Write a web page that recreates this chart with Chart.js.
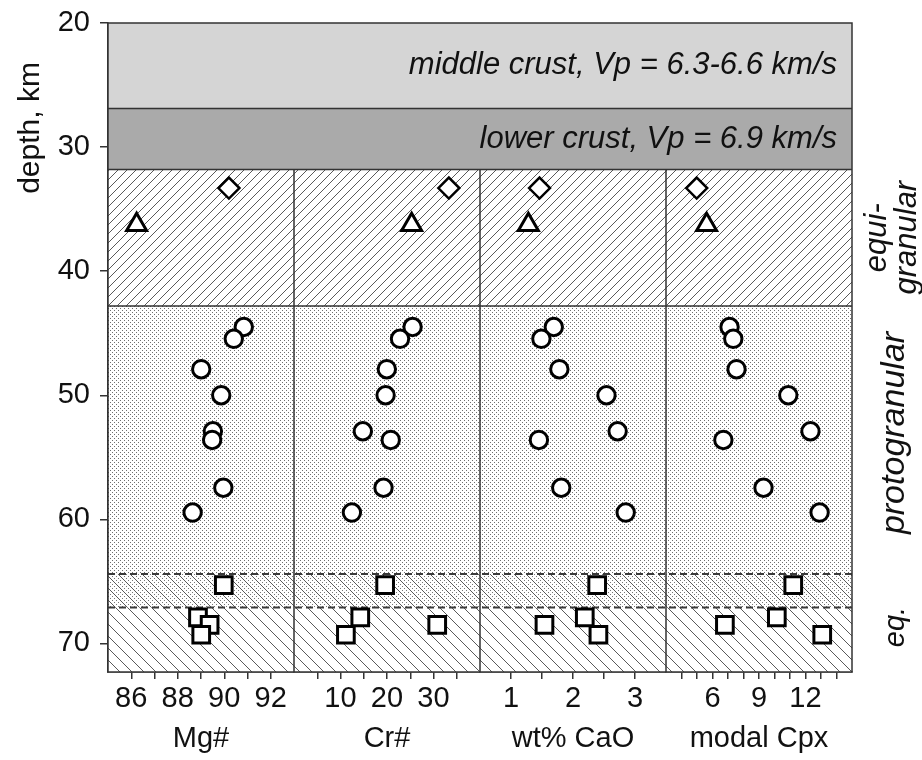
<!DOCTYPE html>
<html><head><meta charset="utf-8">
<script src="https://cdn.jsdelivr.net/npm/chart.js@4.4.0/dist/chart.umd.min.js"></script>
<style>html,body{margin:0;padding:0;background:#fff}#wrap{width:922px;height:760px;position:relative}</style>
</head><body><div id="wrap"><canvas id="c"></canvas></div>
<script>
// ---- data ----
const panelNames = ['Mg#', 'Cr#', 'wt% CaO', 'modal Cpx'];
const panelMin = [85, 0, 0.5, 3];
const panelMax = [93, 40, 3.5, 15];
const panelTicks = [[86,87,88,89,90,91,92],[5,10,15,20,25,30,35],[1,1.5,2,2.5,3],[4,5,6,7,8,9,10,11,12,13,14]];
const panelTickLabels = [[86,88,90,92],[10,20,30],[1,2,3],[6,9,12]];

const depthMin = 20, depthMax = 72.3;
const depthTicks = [20,30,40,50,60,70];

const diamondDepth = 33.3;
const triangleDepth = 36.25;
const circleDepths = [44.5, 45.45, 47.9, 50.0, 52.9, 53.6, 57.45, 59.45];
const squareDepths = [65.3, 67.9, 68.5, 69.3];

const diamondVals  = [90.2, 33.3, 1.46, 4.98];
const triangleVals = [86.23, 25.3, 1.28, 5.62];
const circleMg  = [90.84, 90.41, 89.01, 89.87, 89.51, 89.48, 89.96, 88.64];
const circleCr  = [25.5, 22.8, 19.96, 19.7, 14.8, 20.8, 19.25, 12.45];
const circleCaO = [1.69, 1.49, 1.78, 2.54, 2.72, 1.45, 1.81, 2.85];
const circleCpx = [7.1, 7.34, 7.55, 10.89, 12.32, 6.7, 9.29, 12.91];
const squareMg  = [89.98, 88.87, 89.37, 89.01];
const squareCr  = [19.6, 14.25, 30.8, 11.16];
const squareCaO = [2.39, 2.19, 1.54, 2.41];
const squareCpx = [11.21, 10.15, 6.8, 13.08];

// zone boundaries (depth, km)
const crustMidTop = 20, crustMidBottom = 26.9, crustLowBottom = 31.8;
const equiBottom = 42.8, protoBottom = 64.4, transBottom = 67.1;
const crustLabels = ['middle crust, Vp = 6.3-6.6 km/s', 'lower crust, Vp = 6.9 km/s'];

// ---- build ----
const circleVals = [circleMg, circleCr, circleCaO, circleCpx];
const squareVals = [squareMg, squareCr, squareCaO, squareCpx];
const FONT = 'Liberation Sans, Arial, sans-serif';
const FS = 29;
Chart.defaults.font.family = FONT;
Chart.defaults.font.size = FS;
Chart.defaults.color = '#111';

const datasets = [];
for (let p = 0; p < 4; p++) {
  const xid = 'x' + p;
  const common = {xAxisID: xid, yAxisID: 'y', backgroundColor: '#fff', borderColor: '#000', showLine: false};
  datasets.push(Object.assign({}, common, {data: [{x: diamondVals[p], y: diamondDepth}], pointStyle: 'rectRot', pointRadius: 10.5, borderWidth: 2.5}));
  datasets.push(Object.assign({}, common, {data: [{x: triangleVals[p], y: triangleDepth}], pointStyle: 'triangle', pointRadius: 11.5, borderWidth: 3}));
  datasets.push(Object.assign({}, common, {data: circleDepths.map((d, i) => ({x: circleVals[p][i], y: d})), pointStyle: 'circle', pointRadius: 8.7, borderWidth: 3}));
  datasets.push(Object.assign({}, common, {data: squareDepths.map((d, i) => ({x: squareVals[p][i], y: d})), pointStyle: 'rect', pointRadius: 11.8, borderWidth: 3}));
}

const scales = {
  y: {
    type: 'linear', position: 'left', reverse: true, min: depthMin, max: depthMax,
    afterBuildTicks: s => { s.ticks = depthTicks.map(v => ({value: v})); },
    afterFit: s => { s.width = 108; s.paddingTop = 0; s.paddingBottom = 0; },
    ticks: {padding: 10, color: '#111', font: {size: FS}},
    grid: {display: true, drawOnChartArea: false, drawTicks: true, tickLength: 8, color: '#333', lineWidth: 1.5},
    border: {display: true, color: '#333', width: 1.5}
  }
};
for (let p = 0; p < 4; p++) {
  scales['x' + p] = {
    type: 'linear', position: 'bottom', stack: 'panels', stackWeight: 1,
    min: panelMin[p], max: panelMax[p],
    afterBuildTicks: s => { s.ticks = panelTicks[p].map(v => ({value: v})); },
    afterFit: s => { s.height = 88; },
    ticks: {autoSkip: false, maxRotation: 0, padding: 3, color: '#111', font: {size: FS},
      callback: v => panelTickLabels[p].includes(v) ? String(v) : ''},
    grid: {display: true, drawOnChartArea: false, drawTicks: true, tickLength: 7, color: '#333', lineWidth: 1.5},
    border: {display: true, color: '#333', width: 1.5},
    title: {display: true, text: panelNames[p], color: '#111', font: {size: FS}, padding: {top: 0, bottom: 4}}
  };
}

function tile(w, h, draw) {
  const c = document.createElement('canvas'); c.width = w; c.height = h;
  const g = c.getContext('2d'); g.fillStyle = '#fff'; g.fillRect(0, 0, w, h); draw(g, w, h); return c;
}
function hatchTile(n, dir, withDots) {
  return tile(n, n, (g) => {
    if (withDots) { g.fillStyle = '#777'; for (let yy = 0; yy < n; yy += 2) for (let xx = (yy % 4 === 0 ? 0 : 2); xx < n; xx += 4) g.fillRect(xx, yy, 1, 1); }
    g.strokeStyle = '#5a5a5a'; g.lineWidth = 1; g.beginPath();
    for (const o of [-n, 0, n]) {
      if (dir > 0) { g.moveTo(o, n); g.lineTo(o + n, 0); }
      else { g.moveTo(o, 0); g.lineTo(o + n, n); }
    }
    g.stroke();
  });
}
const dotTile = tile(4, 4, (g) => { g.fillStyle = '#6e6e6e'; g.fillRect(0, 0, 1, 1); g.fillRect(2, 2, 1, 1); });

const bandsPlugin = {
  id: 'bands',
  beforeDatasetsDraw(chart) {
    const ctx = chart.ctx, ca = chart.chartArea, y = chart.scales.y;
    const L = ca.left, R = ca.right, B = ca.bottom;
    const py = v => y.getPixelForValue(v);
    const pat = c => ctx.createPattern(c, 'repeat');
    ctx.save();
    ctx.fillStyle = '#d5d5d5'; ctx.fillRect(L, py(crustMidTop), R - L, py(crustMidBottom) - py(crustMidTop));
    ctx.fillStyle = '#aaaaaa'; ctx.fillRect(L, py(crustMidBottom), R - L, py(crustLowBottom) - py(crustMidBottom));
    ctx.fillStyle = pat(hatchTile(9, 1, false)); ctx.fillRect(L, py(crustLowBottom), R - L, py(equiBottom) - py(crustLowBottom));
    ctx.fillStyle = pat(dotTile); ctx.fillRect(L, py(equiBottom), R - L, py(protoBottom) - py(equiBottom));
    ctx.fillStyle = pat(hatchTile(12, -1, true)); ctx.fillRect(L, py(protoBottom), R - L, py(transBottom) - py(protoBottom));
    ctx.fillStyle = pat(hatchTile(12, -1, false)); ctx.fillRect(L, py(transBottom), R - L, B - py(transBottom));
    ctx.strokeStyle = '#333'; ctx.lineWidth = 1.5;
    ctx.beginPath();
    for (const v of [crustMidBottom, crustLowBottom, equiBottom]) { ctx.moveTo(L, py(v)); ctx.lineTo(R, py(v)); }
    for (let p = 1; p < 4; p++) { const xx = chart.scales['x' + p].left; ctx.moveTo(xx, py(crustLowBottom)); ctx.lineTo(xx, B); }
    ctx.stroke();
    ctx.strokeStyle = '#3a3a3a'; ctx.lineWidth = 2; ctx.setLineDash([7, 4]);
    ctx.beginPath();
    for (const v of [protoBottom, transBottom]) { ctx.moveTo(L, py(v)); ctx.lineTo(R, py(v)); }
    ctx.stroke(); ctx.setLineDash([]);
    ctx.strokeStyle = '#333'; ctx.lineWidth = 1.5; ctx.strokeRect(L, ca.top, R - L, B - ca.top);
    ctx.fillStyle = '#111'; ctx.font = 'italic 31px ' + FONT; ctx.textAlign = 'right'; ctx.textBaseline = 'middle';
    ctx.fillText(crustLabels[0], R - 15, (py(crustMidTop) + py(crustMidBottom)) / 2);
    ctx.fillText(crustLabels[1], R - 15, (py(crustMidBottom) + py(crustLowBottom)) / 2);
    ctx.restore();
  },
  afterDraw(chart) {
    const ctx = chart.ctx, ca = chart.chartArea, y = chart.scales.y;
    const py = v => y.getPixelForValue(v);
    ctx.save();
    ctx.fillStyle = '#111'; ctx.textAlign = 'center'; ctx.textBaseline = 'middle';
    const rot = (txt, x, yy, font) => { ctx.save(); ctx.translate(x, yy); ctx.rotate(-Math.PI / 2); ctx.font = font; ctx.fillText(txt, 0, 0); ctx.restore(); };
    rot('depth, km', 31, 128, '30px ' + FONT);
    const cEq = (py(crustLowBottom) + py(equiBottom)) / 2;
    rot('equi-', ca.right + 25, cEq, 'italic 31px ' + FONT);
    rot('granular', ca.right + 55, cEq, 'italic 31px ' + FONT);
    rot('protogranular', ca.right + 43, 433, 'italic 34px ' + FONT);
    rot('eq.', ca.right + 44, 627, 'italic 29px ' + FONT);
    ctx.restore();
  }
};

new Chart(document.getElementById('c'), {
  type: 'scatter',
  data: {datasets},
  options: {
    responsive: true, maintainAspectRatio: false, animation: false,
    layout: {padding: {left: 0, right: 70, top: 23, bottom: 0}},
    plugins: {legend: {display: false}, tooltip: {enabled: false}},
    scales
  },
  plugins: [bandsPlugin]
});
</script></body></html>
